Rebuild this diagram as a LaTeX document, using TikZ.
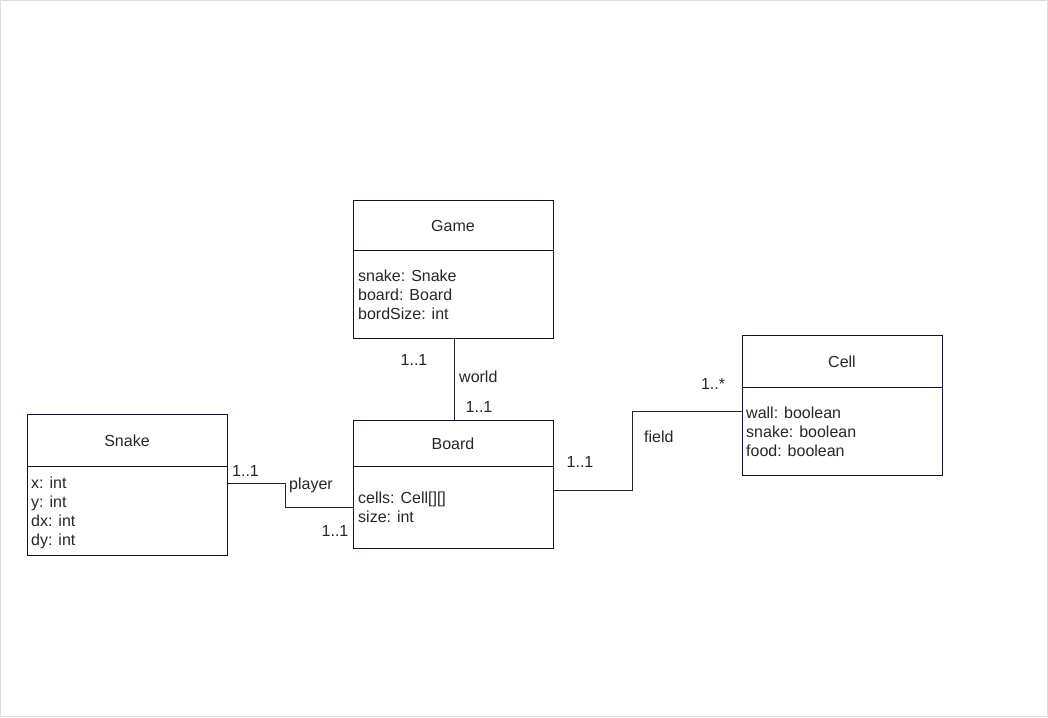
\documentclass[tikz,border=0pt]{standalone}
\usepackage{fontspec}
\setmainfont{Liberation Sans}
\definecolor{boxline}{HTML}{101040}
\definecolor{txt}{HTML}{262626}
\definecolor{frame}{HTML}{DDDDDD}
\begin{document}
\begin{tikzpicture}[x=1pt,y=-1pt,
  every node/.style={font=\fontsize{16}{19}\selectfont, text=txt, inner sep=0pt},
  classbox/.style={draw=boxline, line width=1pt},
  link/.style={draw=black!85, line width=1pt},
  attr/.style={anchor=north west, align=left, font=\fontsize{16}{19}\selectfont},
  lbl/.style={anchor=center}]
\useasboundingbox (0,0) rectangle (1048,717);
\draw[frame, line width=1pt] (0.5,0.5) rectangle (1047.5,716.5);
% Game
\draw[classbox] (353,200) rectangle (553,338);
\draw[classbox] (353,250) -- (553,250);
\node (gameT) at (453,226) {Game};
\node[attr] (gameA) at (358,270) {snake: Snake\\board: Board\\bordSize: int};
\coordinate (gameS) at (454,338);
% Board
\draw[classbox] (353,420) rectangle (553,548);
\draw[classbox] (353,466) -- (553,466);
\node (boardT) at (453,444) {Board};
\node[attr] (boardA) at (358,492) {cells: Cell[][]\\size: int};
\coordinate (boardN) at (454,420);
\coordinate (boardW) at (353,507);
\coordinate (boardE) at (553,490);
% Snake
\draw[classbox] (27,414) rectangle (227,555);
\draw[classbox] (27,466) -- (227,466);
\node (snakeT) at (127,441) {Snake};
\node[attr] (snakeA) at (31,477) {x: int\\y: int\\dx: int\\dy: int};
\coordinate (snakeE) at (227,483);
% Cell
\draw[classbox] (742,335) rectangle (942,475);
\draw[classbox] (742,387) -- (942,387);
\node (cellT) at (842,362) {Cell};
\node[attr] (cellA) at (746,407) {wall: boolean\\snake: boolean\\food: boolean};
\coordinate (cellW) at (742,411);
% connectors
\draw[link] (gameS) -- (boardN);
\draw[link] (snakeE) -- (285,483) -- (285,507) -- (boardW);
\draw[link] (boardE) -- (632,490) -- (632,411) -- (cellW);
% labels
\node[lbl] (l1) at (414,359.5) {1..1};
\node[lbl, anchor=west] (l2) at (459,376.5) {world};
\node[lbl] (l3) at (479,406.5) {1..1};
\node[lbl, anchor=west] (l4) at (232,470.5) {1..1};
\node[lbl, anchor=west] (l5) at (289,485.5) {player};
\node[lbl] (l6) at (335,530.5) {1..1};
\node[lbl] (l7) at (580,461.5) {1..1};
\node[lbl, anchor=west] (l8) at (644,436.5) {field};
\node[lbl] (l9) at (713,383.5) {1..*};
\end{tikzpicture}
\end{document}
